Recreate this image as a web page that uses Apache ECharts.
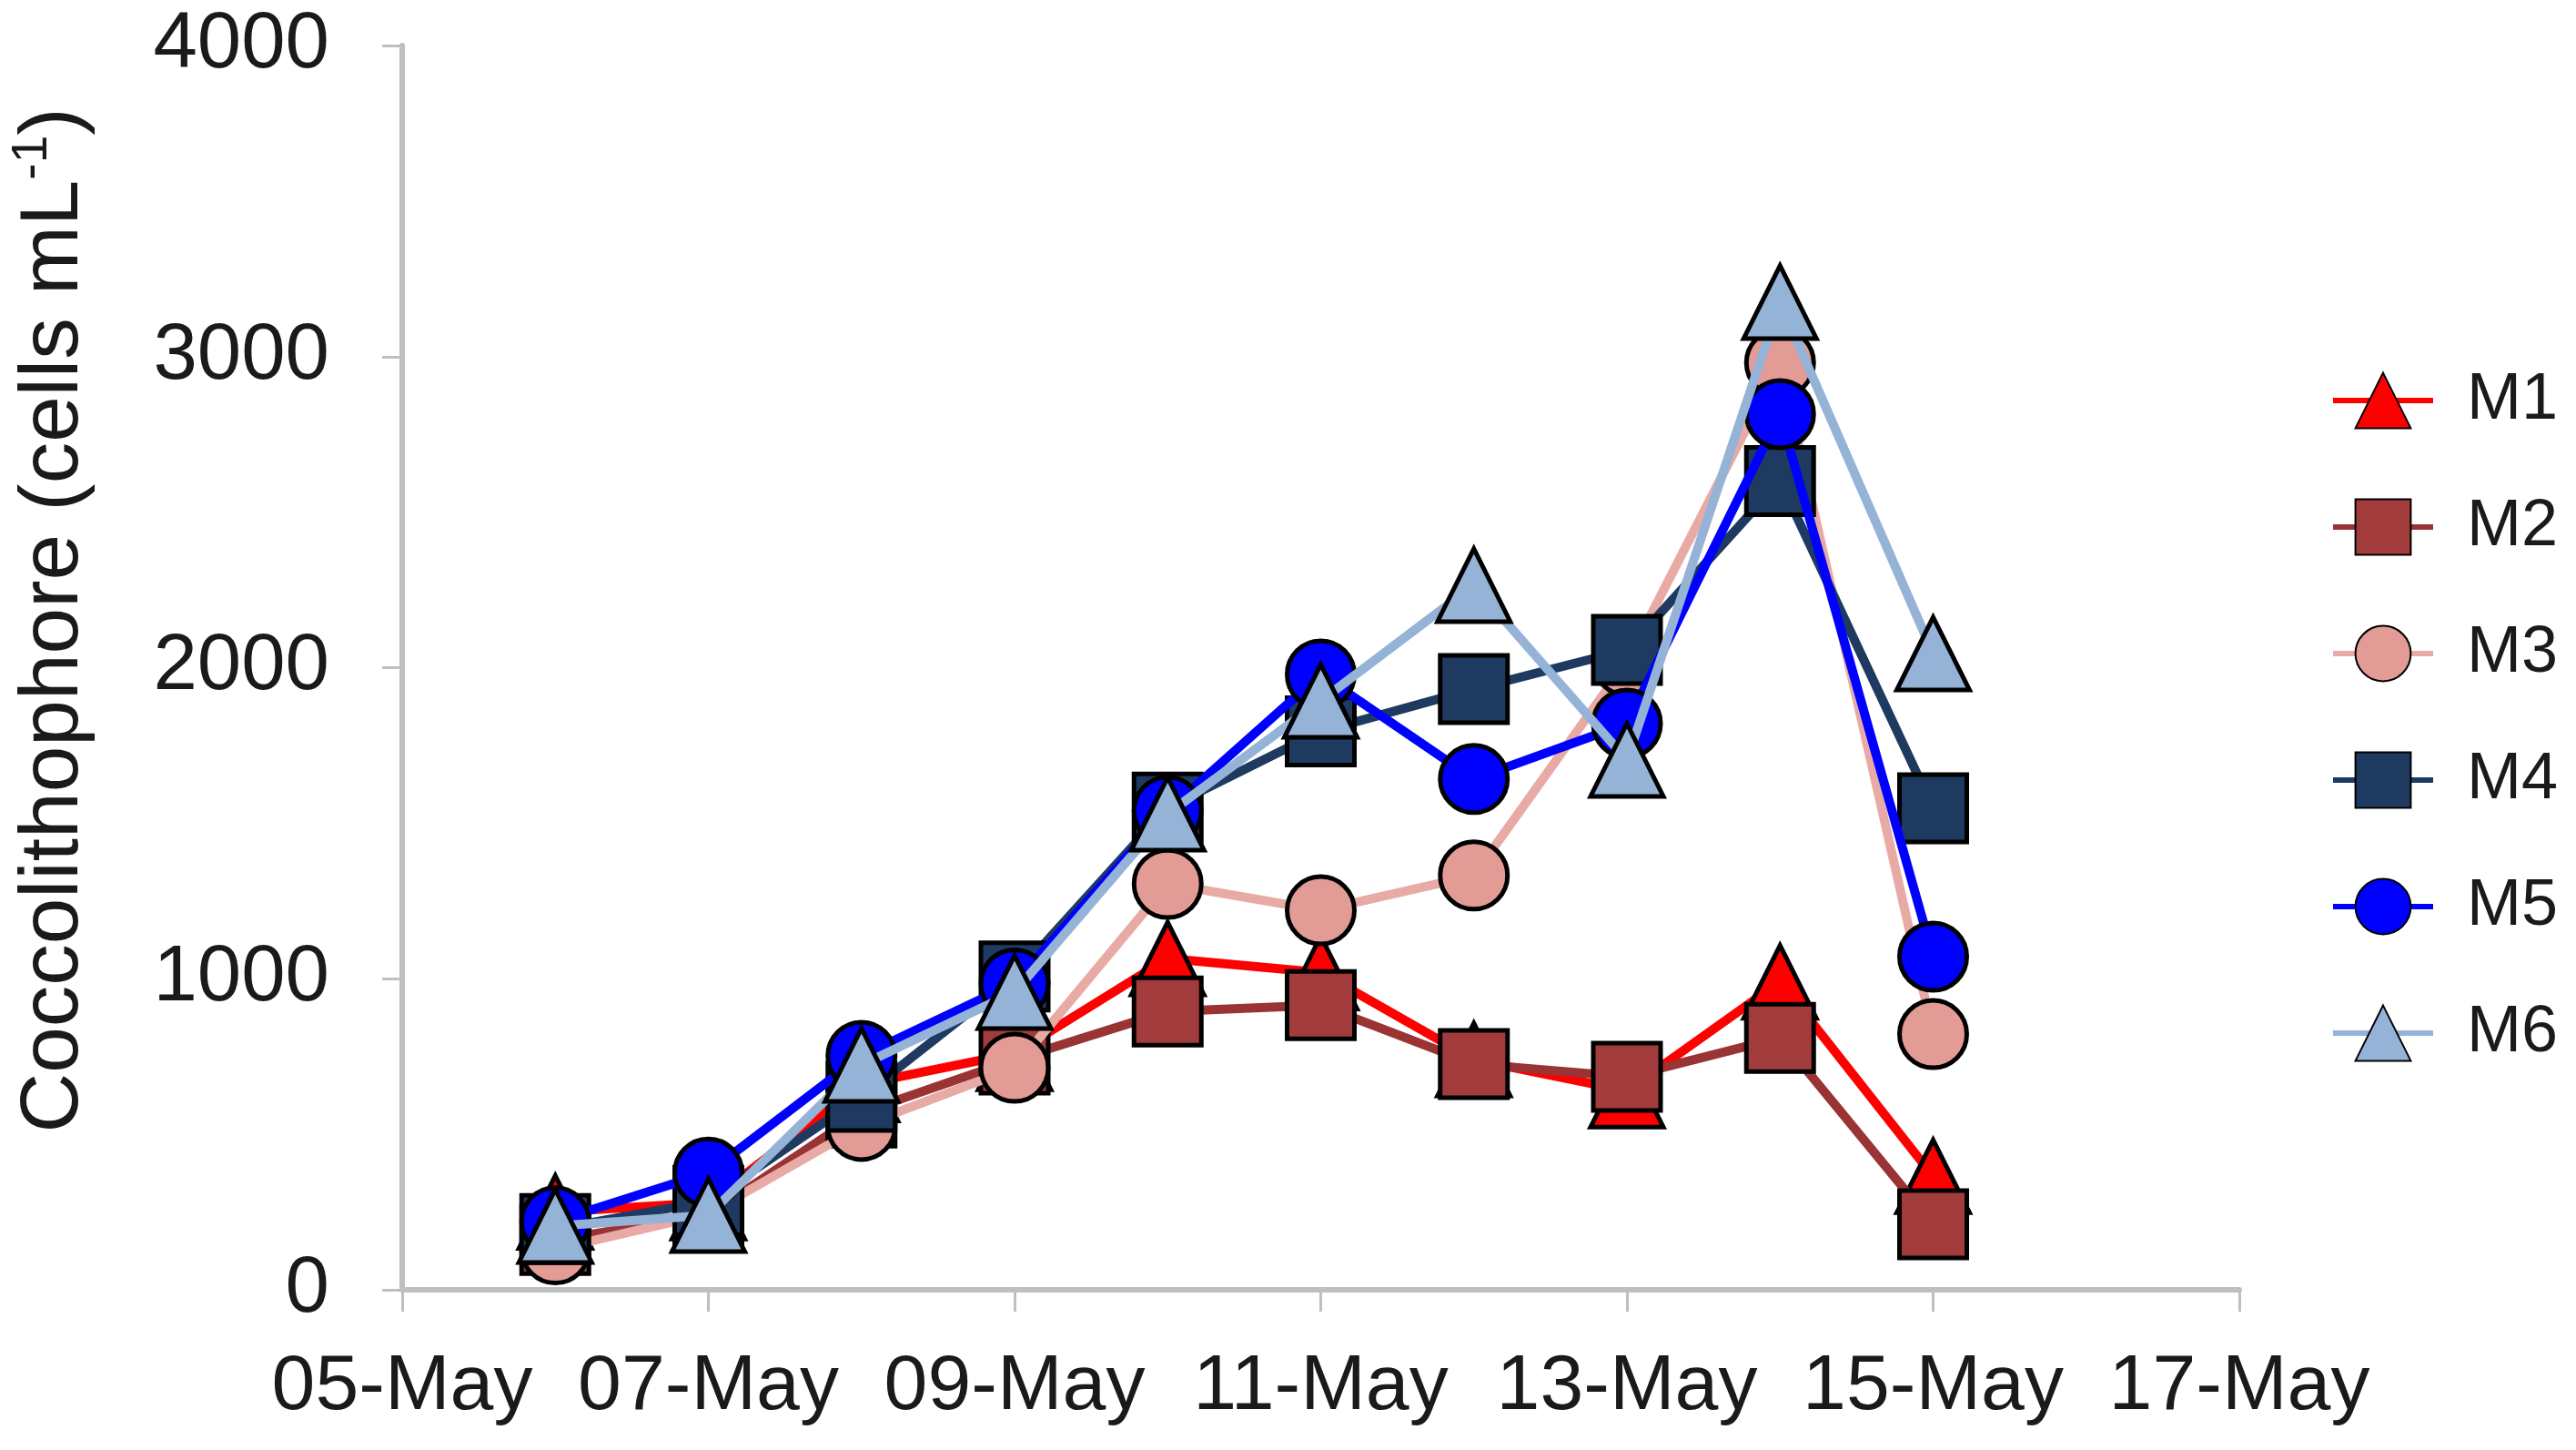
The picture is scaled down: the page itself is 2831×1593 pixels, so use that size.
<!DOCTYPE html>
<html>
<head>
<meta charset="utf-8">
<script src="https://cdn.jsdelivr.net/npm/echarts@6/dist/echarts.min.js"></script>
<style>
html,body{margin:0;padding:0;background:#fff;}
#chart{width:2831px;height:1593px;}
</style>
</head>
<body>
<div id="chart"></div>
<script>
// Sampling days in May
const days = [6, 7, 8, 9, 10, 11, 12, 13, 14, 15];
// x-axis tick days (labels DD-May)
const tickDays = [5, 7, 9, 11, 13, 15, 17];
const seriesNames = ['M1', 'M2', 'M3', 'M4', 'M5', 'M6'];
const M1 = [250, 280, 660, 760, 1065, 1020, 740, 640, 990, 365];
const M2 = [160, 240, 570, 740, 895, 915, 726, 685, 810, 211];
const M3 = [130, 245, 527, 714, 1305, 1220, 1332, 2020, 2980, 822];
const M4 = [195, 285, 620, 1007, 1550, 1795, 1931, 2057, 2600, 1548];
const M5 = [220, 377, 752, 985, 1540, 1978, 1642, 1820, 2815, 1071];
const M6 = [205, 240, 723, 957, 1530, 1893, 2265, 1703, 3175, 2045];
const yTicks = [0, 1000, 2000, 3000, 4000];

const values = [M1, M2, M3, M4, M5, M6];
const styles = [
  {symbol: 'triangle', size: 80, fill: '#ff0000', line: '#ff0000'},
  {symbol: 'rect', size: 74, fill: '#a23c3c', line: '#9a3333'},
  {symbol: 'circle', size: 74, fill: '#e39b95', line: '#e8aaa5'},
  {symbol: 'rect', size: 74, fill: '#1f3a60', line: '#1f3a60'},
  {symbol: 'circle', size: 74, fill: '#0000ff', line: '#0000ff'},
  {symbol: 'triangle', size: 80, fill: '#95b3d7', line: '#95b3d7'}
];

const FONT = 'Liberation Sans';
const pad = n => (n < 10 ? '0' : '') + n;

const chart = echarts.init(document.getElementById('chart'));
chart.setOption({
  backgroundColor: '#ffffff',
  animation: false,
  grid: {left: 441, right: 370, top: 50, bottom: 176, containLabel: false},
  legend: {
    orient: 'vertical',
    left: 2556,
    top: 399,
    itemWidth: 110,
    itemHeight: 76,
    itemGap: 67,
    data: seriesNames,
    lineStyle: {width: 6},
    textStyle: {fontFamily: FONT, fontSize: 72, color: '#1a1a1a', padding: [0, 0, 0, 32]}
  },
  xAxis: {
    type: 'value',
    min: tickDays[0],
    max: tickDays[tickDays.length - 1],
    interval: 2,
    axisLine: {show: true, lineStyle: {color: '#bfbfbf', width: 6}},
    axisTick: {show: true, length: 24, lineStyle: {color: '#bfbfbf', width: 3}},
    splitLine: {show: false},
    axisLabel: {
      fontFamily: FONT, fontSize: 86, color: '#1a1a1a', margin: 64,
      formatter: v => pad(v) + '-May'
    }
  },
  yAxis: {
    type: 'value',
    min: yTicks[0],
    max: yTicks[yTicks.length - 1],
    interval: 1000,
    axisLine: {show: true, lineStyle: {color: '#bfbfbf', width: 6}},
    axisTick: {show: true, length: 22, lineStyle: {color: '#bfbfbf', width: 3}},
    splitLine: {show: false},
    axisLabel: {fontFamily: FONT, fontSize: 87, color: '#1a1a1a', margin: 80, formatter: v => String(v)},
    name: '{a|Coccolithophore (cells mL}{b|-1}{a|)}',
    nameLocation: 'middle',
    nameRotate: 90,
    nameGap: 330,
    nameTextStyle: {
      padding: [0, 0, 0, 104],
      rich: {
        a: {fontFamily: FONT, fontSize: 91, color: '#1a1a1a', lineHeight: 104},
        b: {fontFamily: FONT, fontSize: 55, color: '#1a1a1a', verticalAlign: 'top', lineHeight: 104, padding: [0, 0, 36, 0]}
      }
    }
  },
  series: seriesNames.map((name, k) => ({
    name: name,
    type: 'line',
    data: days.map((d, i) => [d, values[k][i]]),
    symbol: styles[k].symbol,
    symbolSize: styles[k].size,
    lineStyle: {color: styles[k].line, width: 10},
    itemStyle: {color: styles[k].fill, borderColor: '#000000', borderWidth: 5},
    emphasis: {disabled: true},
    z: 2 + k
  }))
});
</script>
</body>
</html>
